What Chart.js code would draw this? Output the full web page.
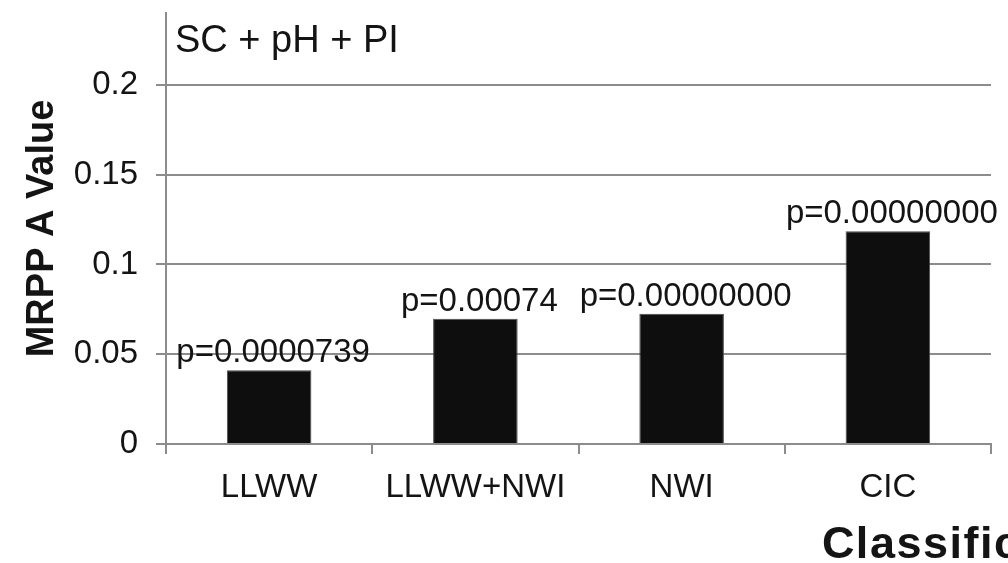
<!DOCTYPE html>
<html>
<head>
<meta charset="utf-8">
<script src="https://cdn.jsdelivr.net/npm/chart.js@4.4.1/dist/chart.umd.min.js"></script>
<style>
    html, body { margin: 0; padding: 0; background: #fff; overflow: hidden; }
    #wrap { width: 1008px; height: 563px; }
</style>
</head>
<body>
<div id="wrap"><canvas id="mrppChart" width="1008" height="563"></canvas></div>
<script>
// Chart data
const categories = ['LLWW', 'LLWW+NWI', 'NWI', 'CIC'];
const mrppA = [0.041, 0.0697, 0.0725, 0.1185];
const pLabels = ['p=0.0000739', 'p=0.00074', 'p=0.00000000', 'p=0.00000000'];
const yTicks = [0, 0.05, 0.1, 0.15, 0.2];
const panelTitle = 'SC + pH + PI';
const xTitle = 'Classification';
const yTitle = 'MRPP A Value';

const FONT = '"Liberation Sans", Arial, sans-serif';
const GRID = '#8c8c8c';
const INK = '#141414';

// p-values over bars, panel title and the (cut off) axis title
const annotations = {
    id: 'annotations',
    afterDatasetsDraw(chart) {
        const { ctx, chartArea } = chart;
        const meta = chart.getDatasetMeta(0);
        ctx.save();
        ctx.fillStyle = INK;
        ctx.font = `33px ${FONT}`;
        ctx.textAlign = 'center';
        ctx.textBaseline = 'alphabetic';
        meta.data.forEach((bar, i) => {
            ctx.fillText(pLabels[i], bar.x + 4, bar.y - 8);
        });

        ctx.textAlign = 'left';
        ctx.font = `38px ${FONT}`;
        ctx.fillText(panelTitle, chartArea.left + 9, chartArea.top + 39);

        ctx.font = `bold 45px ${FONT}`;
        ctx.letterSpacing = '1.5px';
        const xs = chart.scales.x;
        ctx.fillText(xTitle, xs.getPixelForValue(3) - 66, 558);
        ctx.restore();
    }
};

const ctx = document.getElementById('mrppChart').getContext('2d');
const mrppChart = new Chart(ctx, {
    type: 'bar',
    data: {
        labels: categories,
        datasets: [{
            data: mrppA,
            backgroundColor: '#0e0e0e',
            borderColor: '#4a4a4a',
            borderWidth: 1,
            categoryPercentage: 1.0,
            barPercentage: 0.41
        }]
    },
    options: {
        responsive: false,
        animation: false,
        layout: { padding: { top: 13, right: 17, left: 0, bottom: 0 } },
        plugins: {
            legend: { display: false },
            tooltip: { enabled: false }
        },
        scales: {
            x: {
                grid: {
                    offset: true,
                    drawOnChartArea: false,
                    color: GRID,
                    lineWidth: 2,
                    tickLength: 10
                },
                border: { color: GRID, width: 2 },
                ticks: {
                    color: INK,
                    padding: 14,
                    font: { family: FONT, size: 33 }
                },
                afterFit(scale) {
                    scale.height = 119;
                    scale.paddingLeft = 0;
                    scale.paddingRight = 0;
                }
            },
            y: {
                min: 0,
                max: 0.24,
                grid: {
                    color: GRID,
                    lineWidth: 2,
                    tickLength: 10
                },
                border: { color: GRID, width: 2 },
                ticks: {
                    color: INK,
                    padding: 18,
                    font: { family: FONT, size: 33 },
                    callback: v => String(+v.toFixed(2))
                },
                afterBuildTicks(scale) {
                    scale.ticks = yTicks.map(v => ({ value: v }));
                },
                title: {
                    display: true,
                    text: yTitle,
                    color: INK,
                    font: { family: FONT, size: 38, weight: 'bold' },
                    padding: { top: 20, bottom: 0 }
                },
                afterFit(scale) {
                    scale.width = 166;
                    scale.paddingTop = 0;
                    scale.paddingBottom = 0;
                }
            }
        }
    },
    plugins: [annotations]
});
</script>
</body>
</html>
